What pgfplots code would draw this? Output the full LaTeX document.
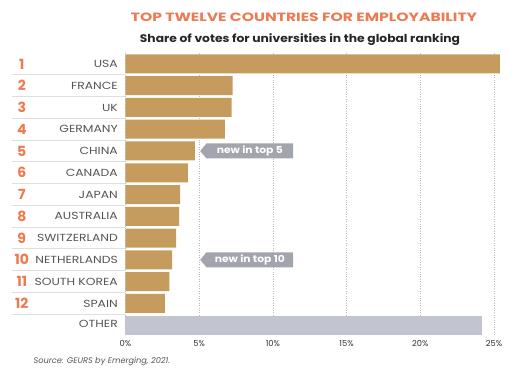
\documentclass[border=0pt]{standalone}
\usepackage{pgfplots}
\pgfplotsset{compat=1.18}
\usepackage{fontspec}
\setmainfont{Poppins}
\newfontfamily\wideA[FakeStretch=1.3]{Poppins}
\newfontfamily\wideB[FakeStretch=1.12]{Poppins}
\newfontfamily\wideC[FakeStretch=1.2]{Poppins}
\usetikzlibrary{shapes.symbols}
\definecolor{barc}{HTML}{C59B5E}
\definecolor{otherc}{HTML}{C2C5D0}
\definecolor{tagc}{HTML}{A2A5AE}
\definecolor{rankc}{HTML}{EE7A4E}
\definecolor{titlec}{HTML}{EC7A52}
\definecolor{labc}{HTML}{555555}
\newcommand{\rk}[2]{\makebox[106pt]{\makebox[20pt]{\raisebox{-1.4pt}{\textcolor{rankc}{\fontsize{14}{14}\selectfont\bfseries #1}}}\hfill {\wideC\fontsize{10.3}{10.3}\selectfont #2}}}
\begin{document}
\begin{tikzpicture}
\useasboundingbox (0,0) rectangle (523pt,376pt);
\node[font=\wideA\fontsize{12}{12}\selectfont\bfseries, text=titlec] at (304pt,359pt) {TOP TWELVE COUNTRIES FOR EMPLOYABILITY};
\node[font=\wideB\fontsize{11}{11}\selectfont\bfseries, text=black!85] at (300pt,336pt) {Share of votes for universities in the global ranking};
\node[font=\fontsize{8.2}{8.2}\selectfont\itshape, text=labc, anchor=west] at (30pt,15pt) {Source: GEURS by Emerging, 2021.};
\begin{axis}[
  at={(125.5pt,40.1pt)}, anchor=south west,
  scale only axis, width=383.2pt, height=282.8pt,
  xmin=0, xmax=26, ymin=-0.5, ymax=12.5, y dir=reverse,
  axis line style={draw=none},
  major tick length=0pt,
  tick pos=left,
  xtick={0,5,10,15,20,25},
  xticklabels={0\%,5\%,10\%,15\%,20\%,25\%},
  xmajorgrids, grid style={dotted, gray!55, line width=0.5pt},
  xticklabel style={font=\fontsize{8.3}{8.3}\selectfont, text=black!80, anchor=center, yshift=-8pt},
  ytick={0,...,12},
  yticklabels={{\rk{1}{USA}},{\rk{2}{FRANCE}},{\rk{3}{UK}},{\rk{4}{GERMANY}},{\rk{5}{CHINA}},{\rk{6}{CANADA}},{\rk{7}{JAPAN}},{\rk{8}{AUSTRALIA}},{\rk{9}{SWITZERLAND}},{\rk{10}{NETHERLANDS}},{\rk{11}{SOUTH KOREA}},{\rk{12}{SPAIN}},{\rk{}{OTHER}}},
  yticklabel style={text=labc, inner sep=0pt, anchor=east, xshift=-7.5pt},
  extra y ticks={0.5,1.5,2.5,3.5,4.5,5.5,6.5,7.5,8.5,9.5,10.5,11.5},
  extra y tick labels={},
  extra y tick style={major tick length=113pt, tick align=outside, major tick style={draw=gray!25, line width=0.8pt}},
  xbar, bar width=19pt, bar shift=0pt,
  /pgf/number format/assume math mode=true,
  clip=false,
]
\addplot[draw=none, fill=barc] coordinates {
(25.4,0) (7.27,1) (7.2,2) (6.75,3) (4.7,4) (4.24,5) (3.7,6) (3.63,7) (3.43,8) (3.17,9) (2.97,10) (2.68,11)};
\addplot[draw=none, fill=otherc] coordinates {(24.2,12)};
\node[signal, signal to=west, signal pointer angle=100, fill=tagc, text=white, minimum height=15pt, minimum width=93pt, inner sep=2pt, anchor=west, font=\wideB\fontsize{9.6}{9.6}\selectfont\bfseries] at (axis cs:5.05,4) {new in top 5};
\node[signal, signal to=west, signal pointer angle=100, fill=tagc, text=white, minimum height=15pt, minimum width=93pt, inner sep=2pt, anchor=west, font=\wideB\fontsize{9.6}{9.6}\selectfont\bfseries] at (axis cs:5.05,9) {new in top 10};
\end{axis}
\end{tikzpicture}
\end{document}
